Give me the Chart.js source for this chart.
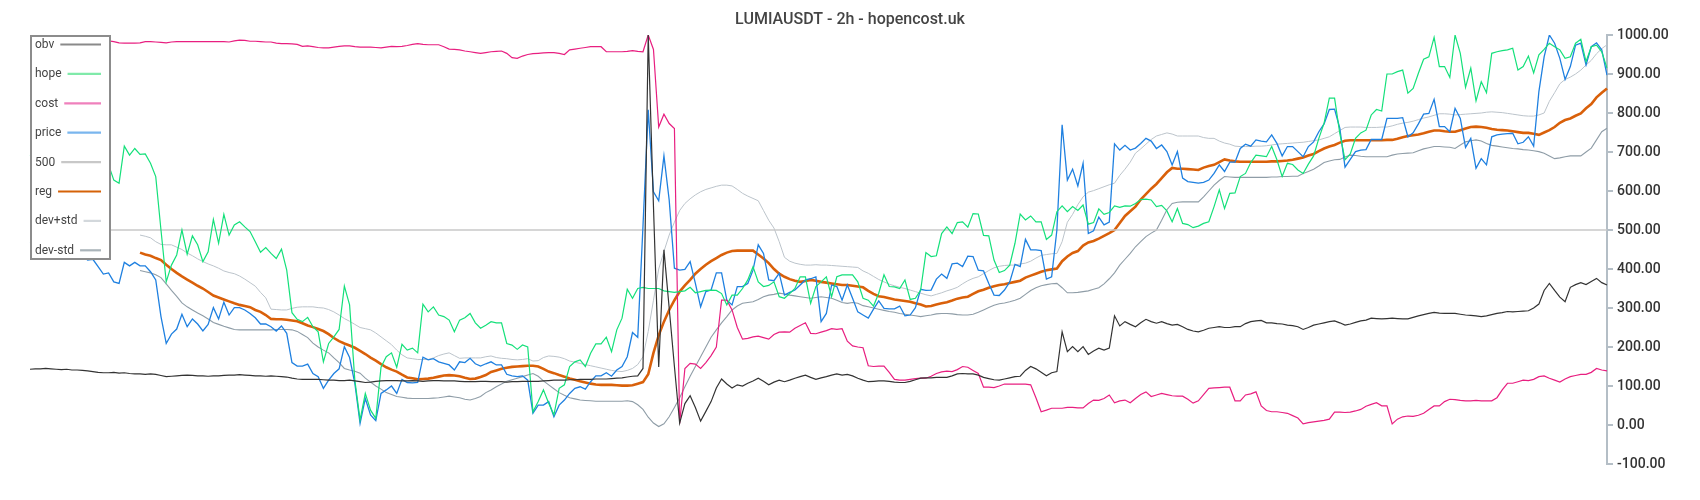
<!DOCTYPE html>
<html>
<head>
<meta charset="utf-8">
<script src="https://cdn.jsdelivr.net/npm/chart.js@4.4.1/dist/chart.umd.min.js"></script>
<style>
  html, body { margin: 0; padding: 0; background: #ffffff; }
  #wrap { width: 1700px; height: 500px; position: relative; }
</style>
</head>
<body>
<div id="wrap"><canvas id="c" width="1700" height="500"></canvas></div>
<script>
const chartTitle = 'LUMIAUSDT - 2h - hopencost.uk';
const seriesNames = ['obv', 'hope', 'cost', 'price', '500', 'reg', 'dev+std', 'dev-std'];
const yMin = -100, yMax = 1000, yStep = 100;

const obv = [
143,144,144,145,144,143,142,143,141,141,
140,139,137,135,134,134,135,133,134,132,
131,131,130,131,130,127,124,125,126,127,
128,127,126,126,125,126,126,127,128,128,
129,128,127,126,126,125,126,125,124,123,
120,118,117,117,117,117,116,115,115,114,
114,115,113,111,109,110,112,113,114,114,
114,113,113,114,113,112,113,114,114,113,
113,113,112,111,111,111,112,112,111,111,
111,110,111,111,112,112,112,112,113,114,
115,115,115,116,116,117,117,117,118,118,
118,119,120,121,123,125,126,145,1000,560,
149,449,300,150,5,55,75,45,10,35,
60,95,118,105,95,103,100,107,113,120,
112,103,110,115,111,115,120,124,128,122,
117,121,124,128,131,128,130,126,120,115,
111,112,113,113,112,110,109,109,112,116,
120,121,121,122,122,122,126,131,132,131,
131,128,122,119,116,115,118,121,124,125,
140,150,144,135,126,134,137,239,188,201,
188,201,181,190,197,192,197,280,254,265,
258,252,262,271,265,261,265,260,256,258,
252,245,241,239,243,248,250,252,250,250,
252,252,260,265,267,268,262,262,260,259,
256,255,252,245,250,256,259,262,265,267,
262,256,259,263,267,269,274,273,272,273,
274,273,272,272,276,280,283,286,289,287,
286,286,286,284,282,281,280,278,280,283,
286,288,291,290,291,292,293,300,310,345,
363,345,328,316,353,360,365,360,368,376,
365,359
];

const hope = [
690,700,680,710,720,700,690,705,715,700,
690,705,690,680,700,667,628,620,715,692,
709,694,695,671,637,500,367,410,436,500,
438,485,462,419,444,527,466,540,487,513,
521,508,496,470,443,455,440,427,451,397,
288,271,265,276,252,239,162,209,226,245,
356,308,115,13,81,38,17,148,175,185,
148,207,192,197,185,310,290,303,282,278,
269,239,269,275,286,262,248,256,265,262,
262,209,205,194,205,200,34,60,90,56,
26,94,103,150,162,167,150,184,208,208,
225,188,244,274,348,325,350,353,350,350,
350,344,342,340,342,344,353,339,342,345,
346,345,337,308,333,333,350,372,406,367,
355,358,367,329,325,337,350,380,380,312,
355,367,380,329,380,385,385,385,367,325,
320,305,338,385,355,354,350,372,322,325,
346,442,432,434,491,508,491,519,521,507,
542,541,486,485,423,391,396,410,466,541,
526,536,521,521,476,487,547,562,547,560,
550,564,515,519,554,540,545,562,558,562,
561,568,578,579,577,560,563,549,521,555,
517,514,506,510,517,521,560,603,555,594,
595,637,645,673,692,690,688,714,680,637,
671,668,654,645,669,690,735,774,838,838,
748,680,695,735,749,756,795,809,805,900,
900,906,910,851,863,902,938,944,994,919,
919,891,1000,953,866,915,831,880,852,953,
957,960,962,966,910,919,946,903,949,963,
979,970,962,940,944,979,989,932,970,974,
957,915
];

const cost = [
984,985,986,985,984,983,984,985,986,985,
984,983,984,985,985,985,983,980,979,979,
979,980,983,983,982,981,980,982,983,983,
983,983,983,983,983,983,983,983,982,985,
987,986,984,984,983,982,982,979,978,978,
977,976,971,972,970,968,967,967,969,971,
972,972,970,969,969,969,968,967,969,971,
970,971,973,976,978,976,975,975,975,970,
964,963,962,959,957,955,953,955,957,958,
959,953,942,940,946,950,952,953,954,955,
955,953,950,962,964,966,968,970,970,970,
957,957,957,957,958,960,958,957,1000,963,
764,797,773,760,4,145,158,156,145,160,
178,200,320,320,295,250,220,222,226,228,
224,220,232,238,239,238,248,255,262,235,
234,238,242,247,245,247,215,203,200,198,
152,150,151,151,135,117,115,115,117,119,
120,120,125,132,136,138,137,142,150,148,
140,132,97,97,96,100,105,105,105,105,
105,103,70,34,38,43,43,43,45,45,
44,44,55,64,63,68,77,57,62,64,
57,68,78,85,73,77,81,78,75,74,
74,66,56,62,78,94,95,96,97,97,
62,62,77,80,85,49,37,34,34,32,
30,24,18,3,6,8,10,12,15,33,
33,32,33,36,40,48,53,57,49,49,
3,15,21,23,22,25,30,40,49,49,
60,66,65,63,62,62,63,62,62,62,
70,90,107,107,111,115,114,117,124,126,
120,115,110,118,124,127,130,130,135,145,
141,139
];

const price = [
470,465,475,460,455,465,450,445,452,440,
435,423,425,406,387,390,367,363,417,408,
417,408,408,393,372,278,209,233,246,284,
252,272,259,241,258,301,272,315,282,301,
301,295,286,275,259,259,252,241,254,235,
160,151,151,156,132,124,94,115,132,144,
201,173,107,4,68,26,11,81,90,100,
81,117,109,108,109,174,167,170,162,158,
154,141,162,160,171,157,151,157,162,154,
154,130,126,124,126,115,30,51,51,60,
21,51,64,81,94,98,92,111,126,126,
134,125,141,150,175,237,225,510,808,598,
575,690,577,402,397,399,419,363,303,342,
346,390,390,320,308,355,355,363,397,462,
440,372,370,389,333,340,346,359,372,375,
380,265,286,359,355,320,359,325,290,282,
274,297,318,299,298,298,305,280,282,301,
348,345,346,374,387,376,413,415,406,433,
432,397,395,363,333,332,346,367,412,406,
476,449,449,447,374,380,500,770,628,656,
613,671,491,498,533,513,520,721,705,717,
705,710,722,735,728,709,718,701,667,701,
633,624,622,620,622,628,645,667,650,674,
674,709,720,715,731,728,726,744,722,690,
714,714,701,688,714,726,752,772,809,810,
761,661,681,701,705,706,732,732,732,786,
786,786,788,739,749,772,797,799,835,765,
765,752,812,786,712,735,658,683,667,739,
744,746,747,748,721,725,739,715,855,944,
1000,979,940,886,919,974,979,923,970,980,
962,897
];

const level500 = new Array(price.length).fill(500);

const reg = [
null,null,null,null,null,null,null,null,null,null,
null,null,null,null,null,null,null,null,null,null,
null,442,437,434,428,423,411,400,390,381,
373,365,357,350,341,332,327,322,317,312,
308,305,302,295,290,282,272,271,271,270,
268,266,261,255,251,246,241,233,223,215,
209,204,198,190,182,173,165,156,148,142,
137,129,122,120,117,118,119,121,124,127,
128,127,125,121,118,119,123,128,136,140,
144,147,149,150,151,152,152,150,144,137,
133,128,124,119,116,112,109,106,104,103,
103,103,102,101,101,102,106,110,130,185,
230,265,295,320,342,358,372,388,400,411,
420,428,436,442,446,447,447,447,447,437,
427,415,400,388,380,374,370,367,369,372,
370,367,365,363,361,359,359,357,355,353,
344,336,330,328,325,322,320,318,316,312,
309,304,305,309,312,315,319,324,327,329,
336,343,347,352,356,359,361,364,367,370,
378,383,388,393,397,399,401,420,432,441,
446,460,468,472,478,485,492,500,518,536,
548,560,578,592,606,618,633,648,659,657,
657,656,655,654,660,664,667,674,681,678,
676,675,675,675,675,675,675,676,676,677,
678,680,683,686,691,695,702,709,714,718,
724,729,730,730,730,730,730,730,730,731,
731,734,738,741,743,745,748,752,755,755,
753,752,752,756,760,764,765,764,762,759,
757,756,755,753,751,749,749,747,744,750,
756,764,775,782,786,793,799,812,823,840,
852,863
];

const devPlus = [
null,null,null,null,null,null,null,null,null,null,
null,null,null,null,null,null,null,null,null,null,
null,487,484,480,470,463,462,462,456,450,
441,434,426,419,413,408,402,395,391,388,
382,374,365,356,340,326,297,296,295,295,
299,302,303,303,303,301,300,296,290,282,
273,266,258,250,247,244,236,226,216,206,
192,180,172,170,168,168,168,172,178,182,
185,178,171,172,172,172,172,175,177,173,
171,170,168,167,168,170,164,165,173,177,
176,174,170,164,161,158,155,152,149,146,
143,140,138,137,140,145,155,175,240,320,
400,445,487,520,550,568,580,590,598,604,
608,612,615,615,613,604,594,587,581,575,
550,525,505,470,430,420,415,412,410,410,
411,410,410,409,408,407,406,405,404,395,
389,381,373,367,361,357,353,350,346,342,
338,334,331,335,339,344,348,353,362,370,
376,380,388,396,403,407,409,410,410,413,
415,420,428,435,437,439,440,470,520,540,
565,585,597,601,606,611,616,620,640,656,
674,697,708,720,732,741,745,749,746,741,
741,741,741,741,737,735,735,728,723,720,
715,714,714,714,715,715,716,718,720,721,
722,723,724,725,727,729,731,735,739,747,
755,763,764,764,764,763,763,763,764,764,
767,771,774,776,779,783,787,790,794,798,
798,797,795,796,797,798,799,800,802,803,
802,801,799,797,795,793,792,792,795,800,
830,852,875,886,892,900,910,923,935,952,
965,975
];

const devMinus = [
null,null,null,null,null,null,null,null,null,null,
null,null,null,null,null,null,null,null,null,null,
null,396,393,390,385,378,362,345,330,313,
303,295,287,280,272,263,258,253,249,245,
244,244,244,244,244,244,244,245,245,245,
244,240,232,224,210,200,192,185,172,160,
145,141,138,133,120,110,100,92,83,78,
73,71,69,68,68,68,68,69,70,72,
74,72,70,66,64,68,73,83,90,98,
105,112,116,120,124,128,132,125,113,103,
93,83,76,70,67,64,63,62,61,61,
61,61,61,61,62,60,52,40,20,5,
-4,3,21,45,70,98,125,150,175,200,
225,244,262,278,295,305,312,314,316,322,
329,333,335,338,336,333,331,329,327,325,
327,329,327,325,320,314,312,314,312,306,
303,300,297,294,291,289,286,284,282,280,
278,280,282,285,286,286,285,283,282,282,
284,289,295,301,307,311,313,316,320,325,
335,345,352,357,360,362,363,352,339,339,
340,342,344,348,352,362,375,390,410,425,
440,457,470,483,492,500,525,552,568,571,
572,572,572,572,585,600,615,627,637,636,
635,635,635,635,635,635,635,636,636,637,
637,638,638,645,650,656,664,673,677,680,
681,687,692,691,689,688,688,688,688,688,
692,695,696,697,698,703,708,711,714,714,
713,712,709,718,726,729,731,728,722,717,
715,713,711,709,708,706,705,703,701,697,
690,683,685,688,690,690,690,700,710,731,
752,761
];

const categories = price.map((_, i) => i);

const lineColors   = ['#333333', '#14e07a', '#e81f80', '#1f80e0', '#c8c8c8', '#d9600a', '#bcc4cb', '#8f9da7'];
const legendColors = ['#8a8a8a', '#80eaaa', '#ef80bc', '#7ab6ee', '#c8c8c8', '#d56208', '#d3d8dc', '#aab4ba'];
const lineWidths   = [1.2, 1.2, 1.2, 1.3, 1.5, 2.6, 1, 1.1];
const seriesData   = [obv, hope, cost, price, level500, reg, devPlus, devMinus];

const datasets = seriesNames.map((name, k) => ({
  label: name,
  data: seriesData[k],
  borderColor: lineColors[k],
  backgroundColor: lineColors[k],
  borderWidth: lineWidths[k],
  pointRadius: 0,
  pointHoverRadius: 0,
  tension: 0,
  fill: false,
  spanGaps: false
}));

const overlay = {
  id: 'overlay',
  afterDraw(chart) {
    const ctx = chart.ctx;
    const area = chart.chartArea;
    ctx.save();
    // title
    ctx.font = '500 16px Roboto';
    ctx.fillStyle = '#444444';
    ctx.textAlign = 'center';
    ctx.textBaseline = 'middle';
    ctx.fillText(chartTitle, chart.width / 2, 20);
    // legend box over the top-left of the plot
    const bx = area.left, by = area.top, bw = 81, bh = 225;
    ctx.fillStyle = '#ffffff';
    ctx.fillRect(bx, by, bw, bh);
    ctx.strokeStyle = '#8c8c8c';
    ctx.lineWidth = 2;
    ctx.strokeRect(bx + 1, by + 1, bw - 2, bh - 2);
    ctx.font = '12px Roboto';
    ctx.textAlign = 'left';
    ctx.textBaseline = 'middle';
    seriesNames.forEach((name, k) => {
      const y = by + 10 + k * 29.4;
      const tx = bx + 5;
      ctx.fillStyle = '#444444';
      ctx.fillText(name, tx, y);
      const w = ctx.measureText(name).width;
      ctx.strokeStyle = legendColors[k];
      ctx.lineWidth = 2.2;
      ctx.beginPath();
      ctx.moveTo(tx + w + 6, y - 0.5);
      ctx.lineTo(bx + 71, y - 0.5);
      ctx.stroke();
    });
    ctx.restore();
  }
};

new Chart(document.getElementById('c'), {
  type: 'line',
  data: { labels: categories, datasets },
  options: {
    responsive: false,
    animation: false,
    events: [],
    layout: { padding: { left: 30, top: 35, bottom: 36, right: 0 } },
    plugins: { legend: { display: false }, title: { display: false }, tooltip: { enabled: false } },
    scales: {
      x: { display: false },
      y: {
        position: 'right',
        min: yMin,
        max: yMax,
        afterFit(scale) { scale.width = 93; },
        border: { display: true, color: '#b4bec6', width: 2 },
        grid: { drawOnChartArea: false, drawTicks: true, tickLength: 6, color: '#b4bec6', lineWidth: 2 },
        ticks: {
          stepSize: yStep,
          padding: 4,
          color: '#333333',
          font: { family: 'Roboto', size: 14, weight: '500' },
          callback: (v) => Number(v).toFixed(2)
        }
      }
    }
  },
  plugins: [overlay]
});
</script>
</body>
</html>
